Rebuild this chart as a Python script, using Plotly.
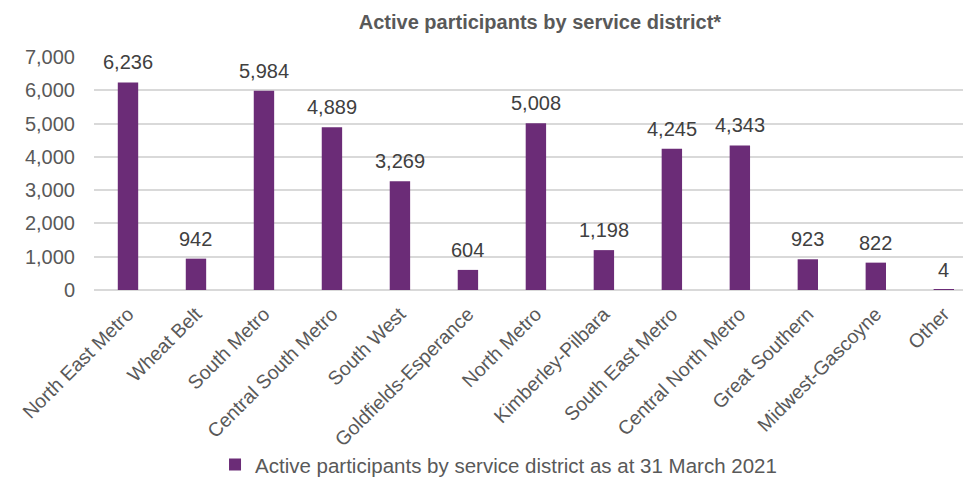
import plotly.graph_objects as go

categories = ["North East Metro", "Wheat Belt", "South Metro", "Central South Metro",
              "South West", "Goldfields-Esperance", "North Metro", "Kimberley-Pilbara",
              "South East Metro", "Central North Metro", "Great Southern",
              "Midwest-Gascoyne", "Other"]
values = [6236, 942, 5984, 4889, 3269, 604, 5008, 1198, 4245, 4343, 923, 822, 4]
series_name = "Active participants by service district as at 31 March 2021"
title = "Active participants by service district*"
y_ticks = [0, 1000, 2000, 3000, 4000, 5000, 6000, 7000]

FONT = "Liberation Sans, Arial, sans-serif"

fig = go.Figure()
fig.add_trace(go.Bar(
    x=list(range(len(categories))), y=values, name=series_name,
    marker=dict(color="#6B2C77", line=dict(width=0)),
    width=0.3,
))

for i, v in enumerate(values):
    fig.add_annotation(x=i, y=v, text=f"{v:,}", showarrow=False,
                       yanchor="middle", yshift=20,
                       font=dict(family=FONT, size=20, color="#404040"))

fig.update_layout(
    width=963, height=469,
    margin=dict(l=86, r=0, t=49, b=187, autoexpand=False),
    paper_bgcolor="white", plot_bgcolor="white",
    title=dict(text=f"<b>{title}</b>", xref="container", yref="container",
               x=0.5524, xanchor="center", y=0.970, yanchor="middle",
               font=dict(family=FONT, size=20, color="#595959")),
    font=dict(family=FONT, size=20, color="#595959"),
    showlegend=True,
    legend=dict(orientation="h", x=0.138, xanchor="left", y=-0.75, yanchor="middle",
                font=dict(family=FONT, size=20.5, color="#595959"), itemwidth=30),
    xaxis=dict(tickmode="array", tickvals=list(range(len(categories))), ticktext=categories,
               tickangle=-45, range=[-0.5, 12.4], showgrid=False, showline=False,
               ticks="", automargin=False, ticklabelstandoff=8,
               tickfont=dict(size=19.5, color="#595959")),
    yaxis=dict(range=[0, 7000], tickvals=y_ticks, tickformat=",", showgrid=True,
               gridcolor="#D9D9D9", gridwidth=1.5, zeroline=True, zerolinecolor="#D9D9D9",
               zerolinewidth=1.5, ticks="", ticklabelstandoff=18, automargin=False,
               tickfont=dict(size=20, color="#595959")),
    bargap=0.7,
)

fig.write_html("out.html")
